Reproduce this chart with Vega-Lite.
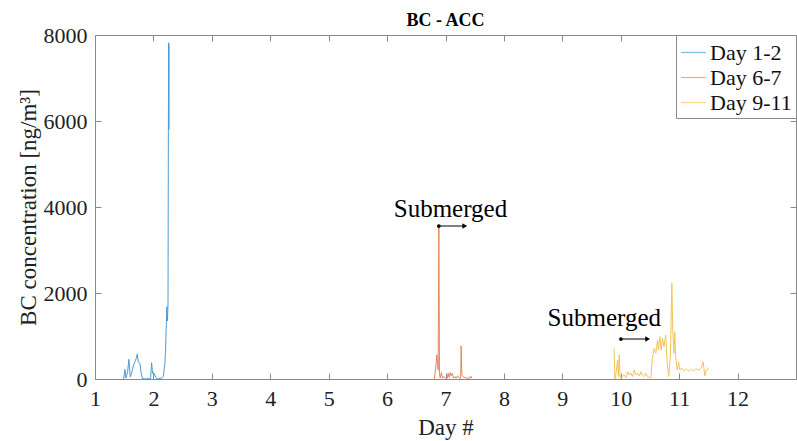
{
  "$schema": "https://vega.github.io/schema/vega-lite/v6.json",
  "width": 701,
  "height": 344,
  "autosize": {"type": "none"},
  "padding": {"left": 95, "top": 35, "right": 1, "bottom": 62},
  "background": "white",
  "title": {"text": "BC - ACC", "font": "Liberation Serif", "fontSize": 18, "fontWeight": "bold", "color": "#000", "offset": -6},
  "config": {
    "view": {"stroke": "#8a8a8a", "strokeWidth": 1},
    "axis": {"labelFont": "Liberation Serif", "titleFont": "Liberation Serif", "labelFontSize": 22, "titleFontSize": 23, "labelColor": "#222", "titleColor": "#222", "titleFontWeight": "normal", "domain": false, "grid": false, "tickColor": "#8a8a8a", "tickSize": -6},
    "legend": {"orient": "top-right", "offset": 0, "strokeColor": "#8a8a8a", "fillColor": "white", "padding": 4, "labelFont": "Liberation Serif", "labelFontSize": 22, "labelColor": "#111", "symbolType": "stroke", "symbolSize": 620, "symbolStrokeWidth": 1.2, "symbolOpacity": 0.7, "rowPadding": 0, "labelOffset": 3, "title": null}
  },
  "datasets": {
    "series": [
      {"s": "Day 1-2", "d": 1.49, "v": 0}, {"s": "Day 1-2", "d": 1.513, "v": 225}, {"s": "Day 1-2", "d": 1.53, "v": 20}, {"s": "Day 1-2", "d": 1.559, "v": 170}, {"s": "Day 1-2", "d": 1.58, "v": 458}, {"s": "Day 1-2", "d": 1.604, "v": 50}, {"s": "Day 1-2", "d": 1.627, "v": 140}, {"s": "Day 1-2", "d": 1.66, "v": 326}, {"s": "Day 1-2", "d": 1.684, "v": 403}, {"s": "Day 1-2", "d": 1.706, "v": 480}, {"s": "Day 1-2", "d": 1.724, "v": 580}, {"s": "Day 1-2", "d": 1.74, "v": 400}, {"s": "Day 1-2", "d": 1.77, "v": 365}, {"s": "Day 1-2", "d": 1.786, "v": 170}, {"s": "Day 1-2", "d": 1.81, "v": 15}, {"s": "Day 1-2", "d": 1.855, "v": 0}, {"s": "Day 1-2", "d": 1.91, "v": 5}, {"s": "Day 1-2", "d": 1.952, "v": 10}, {"s": "Day 1-2", "d": 1.969, "v": 380}, {"s": "Day 1-2", "d": 1.986, "v": 130}, {"s": "Day 1-2", "d": 2.008, "v": 145}, {"s": "Day 1-2", "d": 2.03, "v": 70}, {"s": "Day 1-2", "d": 2.054, "v": 15}, {"s": "Day 1-2", "d": 2.08, "v": 5}, {"s": "Day 1-2", "d": 2.14, "v": 20}, {"s": "Day 1-2", "d": 2.168, "v": 55}, {"s": "Day 1-2", "d": 2.197, "v": 365}, {"s": "Day 1-2", "d": 2.208, "v": 675}, {"s": "Day 1-2", "d": 2.214, "v": 985}, {"s": "Day 1-2", "d": 2.222, "v": 1300}, {"s": "Day 1-2", "d": 2.23, "v": 1680}, {"s": "Day 1-2", "d": 2.24, "v": 1350}, {"s": "Day 1-2", "d": 2.25, "v": 1750}, {"s": "Day 1-2", "d": 2.256, "v": 5750}, {"s": "Day 1-2", "d": 2.261, "v": 7820}, {"s": "Day 1-2", "d": 2.264, "v": 5800}, {"s": "Day 1-2", "d": 2.267, "v": 7780},
      {"s": "Day 6-7", "d": 6.81, "v": 0}, {"s": "Day 6-7", "d": 6.84, "v": 365}, {"s": "Day 6-7", "d": 6.85, "v": 558}, {"s": "Day 6-7", "d": 6.863, "v": 400}, {"s": "Day 6-7", "d": 6.874, "v": 210}, {"s": "Day 6-7", "d": 6.886, "v": 3558}, {"s": "Day 6-7", "d": 6.897, "v": 130}, {"s": "Day 6-7", "d": 6.91, "v": 20}, {"s": "Day 6-7", "d": 6.93, "v": 150}, {"s": "Day 6-7", "d": 6.95, "v": 20}, {"s": "Day 6-7", "d": 6.97, "v": 55}, {"s": "Day 6-7", "d": 7.0, "v": 10}, {"s": "Day 6-7", "d": 7.03, "v": 20}, {"s": "Day 6-7", "d": 7.046, "v": 130}, {"s": "Day 6-7", "d": 7.063, "v": 35}, {"s": "Day 6-7", "d": 7.08, "v": 150}, {"s": "Day 6-7", "d": 7.097, "v": 75}, {"s": "Day 6-7", "d": 7.114, "v": 130}, {"s": "Day 6-7", "d": 7.14, "v": 20}, {"s": "Day 6-7", "d": 7.16, "v": 55}, {"s": "Day 6-7", "d": 7.18, "v": 20}, {"s": "Day 6-7", "d": 7.21, "v": 75}, {"s": "Day 6-7", "d": 7.24, "v": 15}, {"s": "Day 6-7", "d": 7.26, "v": 20}, {"s": "Day 6-7", "d": 7.268, "v": 770}, {"s": "Day 6-7", "d": 7.28, "v": 90}, {"s": "Day 6-7", "d": 7.3, "v": 55}, {"s": "Day 6-7", "d": 7.33, "v": 35}, {"s": "Day 6-7", "d": 7.36, "v": 25}, {"s": "Day 6-7", "d": 7.39, "v": 15}, {"s": "Day 6-7", "d": 7.42, "v": 25}, {"s": "Day 6-7", "d": 7.43, "v": 70}, {"s": "Day 6-7", "d": 7.45, "v": 10},
      {"s": "Day 9-11", "d": 9.885, "v": 710}, {"s": "Day 9-11", "d": 9.9, "v": 0}, {"s": "Day 9-11", "d": 9.91, "v": 40}, {"s": "Day 9-11", "d": 9.946, "v": 440}, {"s": "Day 9-11", "d": 9.96, "v": 60}, {"s": "Day 9-11", "d": 9.974, "v": 558}, {"s": "Day 9-11", "d": 9.99, "v": 20}, {"s": "Day 9-11", "d": 10.03, "v": 55}, {"s": "Day 9-11", "d": 10.06, "v": 93}, {"s": "Day 9-11", "d": 10.09, "v": 30}, {"s": "Day 9-11", "d": 10.12, "v": 170}, {"s": "Day 9-11", "d": 10.145, "v": 93}, {"s": "Day 9-11", "d": 10.17, "v": 147}, {"s": "Day 9-11", "d": 10.2, "v": 55}, {"s": "Day 9-11", "d": 10.23, "v": 210}, {"s": "Day 9-11", "d": 10.26, "v": 93}, {"s": "Day 9-11", "d": 10.29, "v": 132}, {"s": "Day 9-11", "d": 10.32, "v": 70}, {"s": "Day 9-11", "d": 10.345, "v": 170}, {"s": "Day 9-11", "d": 10.37, "v": 93}, {"s": "Day 9-11", "d": 10.4, "v": 55}, {"s": "Day 9-11", "d": 10.43, "v": 132}, {"s": "Day 9-11", "d": 10.46, "v": 55}, {"s": "Day 9-11", "d": 10.49, "v": 40}, {"s": "Day 9-11", "d": 10.516, "v": 20}, {"s": "Day 9-11", "d": 10.54, "v": 480}, {"s": "Day 9-11", "d": 10.57, "v": 713}, {"s": "Day 9-11", "d": 10.6, "v": 600}, {"s": "Day 9-11", "d": 10.63, "v": 905}, {"s": "Day 9-11", "d": 10.645, "v": 680}, {"s": "Day 9-11", "d": 10.67, "v": 985}, {"s": "Day 9-11", "d": 10.69, "v": 680}, {"s": "Day 9-11", "d": 10.715, "v": 945}, {"s": "Day 9-11", "d": 10.74, "v": 750}, {"s": "Day 9-11", "d": 10.77, "v": 1020}, {"s": "Day 9-11", "d": 10.79, "v": 440}, {"s": "Day 9-11", "d": 10.82, "v": 55}, {"s": "Day 9-11", "d": 10.85, "v": 520}, {"s": "Day 9-11", "d": 10.875, "v": 2225}, {"s": "Day 9-11", "d": 10.89, "v": 1140}, {"s": "Day 9-11", "d": 10.91, "v": 600}, {"s": "Day 9-11", "d": 10.925, "v": 1100}, {"s": "Day 9-11", "d": 10.94, "v": 520}, {"s": "Day 9-11", "d": 10.966, "v": 210}, {"s": "Day 9-11", "d": 10.99, "v": 400}, {"s": "Day 9-11", "d": 11.01, "v": 210}, {"s": "Day 9-11", "d": 11.04, "v": 260}, {"s": "Day 9-11", "d": 11.08, "v": 190}, {"s": "Day 9-11", "d": 11.12, "v": 240}, {"s": "Day 9-11", "d": 11.17, "v": 175}, {"s": "Day 9-11", "d": 11.21, "v": 230}, {"s": "Day 9-11", "d": 11.25, "v": 190}, {"s": "Day 9-11", "d": 11.29, "v": 240}, {"s": "Day 9-11", "d": 11.34, "v": 210}, {"s": "Day 9-11", "d": 11.38, "v": 260}, {"s": "Day 9-11", "d": 11.41, "v": 400}, {"s": "Day 9-11", "d": 11.44, "v": 70}, {"s": "Day 9-11", "d": 11.46, "v": 210}, {"s": "Day 9-11", "d": 11.48, "v": 210}, {"s": "Day 9-11", "d": 11.5, "v": 260}
    ],
    "notes": [
      {"label": "Submerged", "d": 7.085, "v": 3767, "d0": 6.886, "d2": 7.33, "a": 3558},
      {"label": "Submerged", "d": 9.718, "v": 1233, "d0": 10.003, "d2": 10.46, "a": 930}
    ]
  },
  "resolve": {"axis": {"x": "independent", "y": "independent"}},
  "layer": [
    {
      "data": {"name": "series"},
      "mark": {"type": "line", "strokeWidth": 1},
      "encoding": {
        "x": {"field": "d", "type": "quantitative", "scale": {"domain": [1, 13], "nice": false, "zero": false},
              "axis": {"orient": "bottom", "values": [1,2,3,4,5,6,7,8,9,10,11,12], "title": "Day #", "labelPadding": 15, "titlePadding": 7, "labelFlush": false}},
        "y": {"field": "v", "type": "quantitative", "scale": {"domain": [0, 8000], "nice": false},
              "axis": {"orient": "left", "values": [0,2000,4000,6000,8000], "format": "d", "title": "BC concentration [ng/m³]", "labelPadding": 14, "titlePadding": 3}},
        "color": {"field": "s", "type": "nominal", "scale": {"domain": ["Day 1-2", "Day 6-7", "Day 9-11"], "range": ["#4d9cd4", "#e4865e", "#f2c55a"]}}
      }
    },
    {
      "data": {"name": "series"},
      "mark": {"type": "line", "opacity": 0},
      "encoding": {
        "x": {"field": "d", "type": "quantitative", "axis": {"orient": "top", "values": [1,2,3,4,5,6,7,8,9,10,11,12], "labels": false, "title": null}},
        "y": {"field": "v", "type": "quantitative", "axis": {"orient": "right", "values": [0,2000,4000,6000,8000], "labels": false, "title": null}},
        "detail": {"field": "s"}
      }
    },
    {
      "data": {"name": "notes"},
      "mark": {"type": "text", "font": "Liberation Serif", "fontSize": 25, "color": "#000", "baseline": "alphabetic", "align": "center"},
      "encoding": {
        "x": {"field": "d", "type": "quantitative", "axis": null},
        "y": {"field": "v", "type": "quantitative", "axis": null},
        "text": {"field": "label"}
      }
    },
    {
      "data": {"name": "notes"},
      "mark": {"type": "rule", "color": "#000", "strokeWidth": 1},
      "encoding": {
        "x": {"field": "d0", "type": "quantitative", "axis": null},
        "x2": {"field": "d2"},
        "y": {"field": "a", "type": "quantitative", "axis": null}
      }
    },
    {
      "data": {"name": "notes"},
      "mark": {"type": "point", "filled": true, "color": "#000", "size": 14, "opacity": 1},
      "encoding": {
        "x": {"field": "d0", "type": "quantitative", "axis": null},
        "y": {"field": "a", "type": "quantitative", "axis": null}
      }
    },
    {
      "data": {"name": "notes"},
      "mark": {"type": "point", "filled": true, "color": "#000", "size": 30, "shape": "triangle-right", "opacity": 1},
      "encoding": {
        "x": {"field": "d2", "type": "quantitative", "axis": null},
        "y": {"field": "a", "type": "quantitative", "axis": null}
      }
    }
  ]
}
